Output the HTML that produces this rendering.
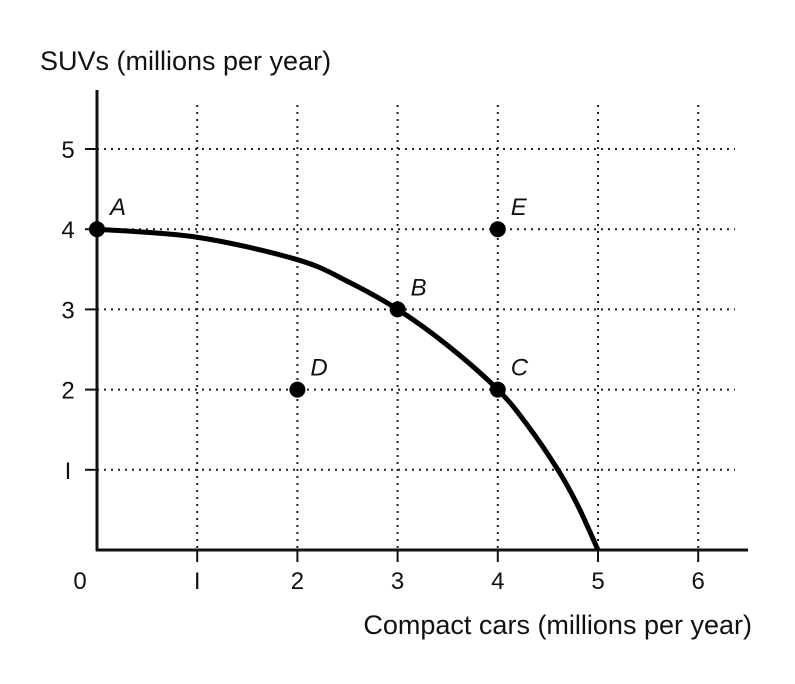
<!DOCTYPE html>
<html><head><meta charset="utf-8"><style>
html,body{margin:0;padding:0;background:#fff}
svg text{font-family:"Liberation Sans",sans-serif;fill:#111}
</style></head><body>
<svg width="795" height="679" viewBox="0 0 795 679">
<g id="grid"></g>
<g id="axes"></g>
<g id="curve"></g>
<g id="pts"></g>
<text x="40" y="70" font-size="27">SUVs (millions per year)</text>
<text x="752" y="634" font-size="27" text-anchor="end">Compact cars (millions per year)</text>
<text x="80" y="589" font-size="24" text-anchor="middle">0</text>
</svg>
<script>
const xTicks = [1,2,3,4,5,6];
const yTicks = [1,2,3,4,5];
const curveX = [0,1,2,2.5,3,3.5,4,4.3,4.6,4.8,5];
const curveY = [4,3.9,3.62,3.35,3,2.55,2,1.55,1.0,0.55,0];
const ptNames = ["A","B","C","D","E"];
const ptX = [0,3,4,2,4];
const ptY = [4,3,2,2,4];
const NS="http://www.w3.org/2000/svg";
const X0=97,Y0=550,XU=100.2,YU=80.2;
const sx=v=>X0+v*XU, sy=v=>Y0-v*YU;
function mk(tag,attrs,parent){const e=document.createElementNS(NS,tag);for(const k in attrs)e.setAttribute(k,attrs[k]);parent.appendChild(e);return e;}
const grid=document.getElementById('grid'),axes=document.getElementById('axes');
xTicks.forEach(t=>{
 const l=mk('line',{x1:sx(t),x2:sx(t),y1:105,y2:Y0,stroke:'#222','stroke-width':2,'stroke-dasharray':'2 5'},grid);
 
 
 const tk=mk('line',{x1:sx(t),x2:sx(t),y1:Y0,y2:Y0+12,stroke:'#111','stroke-width':2},axes);
 
 
 const tx=mk('text',{x:sx(t),y:589,'font-size':24,'text-anchor':'middle'},axes);
 tx.textContent=t===1?'I':t;
 
 
});
yTicks.forEach(t=>{
 const l=mk('line',{x1:X0,x2:735,y1:sy(t),y2:sy(t),stroke:'#222','stroke-width':2,'stroke-dasharray':'2 5'},grid);
 
 
 const tk=mk('line',{x1:X0-12,x2:X0,y1:sy(t),y2:sy(t),stroke:'#111','stroke-width':2},axes);
 
 
 const tx=mk('text',{x:68,y:sy(t)+9,'font-size':24,'text-anchor':'middle'},axes);
 tx.textContent=t===1?'I':t;
 
 
});
const ya=mk('line',{x1:X0,x2:X0,y1:90,y2:Y0+1,stroke:'#111','stroke-width':3},axes);


const xa=mk('line',{x1:X0-1,x2:748,y1:Y0,y2:Y0,stroke:'#111','stroke-width':3},axes);


const P=curveX.map((x,i)=>[sx(x),sy(curveY[i])]);
let d='M'+P[0][0]+','+P[0][1];
for(let i=0;i<P.length-1;i++){
 const p0=P[i-1]||P[i],p1=P[i],p2=P[i+1],p3=P[i+2]||P[i+1];
 d+=' C'+(p1[0]+(p2[0]-p0[0])/6)+','+(p1[1]+(p2[1]-p0[1])/6)+' '+(p2[0]-(p3[0]-p1[0])/6)+','+(p2[1]-(p3[1]-p1[1])/6)+' '+p2[0]+','+p2[1];
}
const cv=mk('path',{d:d,fill:'none',stroke:'#000','stroke-width':5,'stroke-linejoin':'round'},document.getElementById('curve'));


const pts=document.getElementById('pts');
ptNames.forEach((n,i)=>{
 const c=mk('circle',{cx:sx(ptX[i]),cy:sy(ptY[i]),r:8,fill:'#000'},pts);
 
 
 const t=mk('text',{x:sx(ptX[i])+13,y:sy(ptY[i])-14,'font-size':24,'font-style':'italic'},pts);
 t.textContent=n;
 
 
});
</script>
</body></html>
